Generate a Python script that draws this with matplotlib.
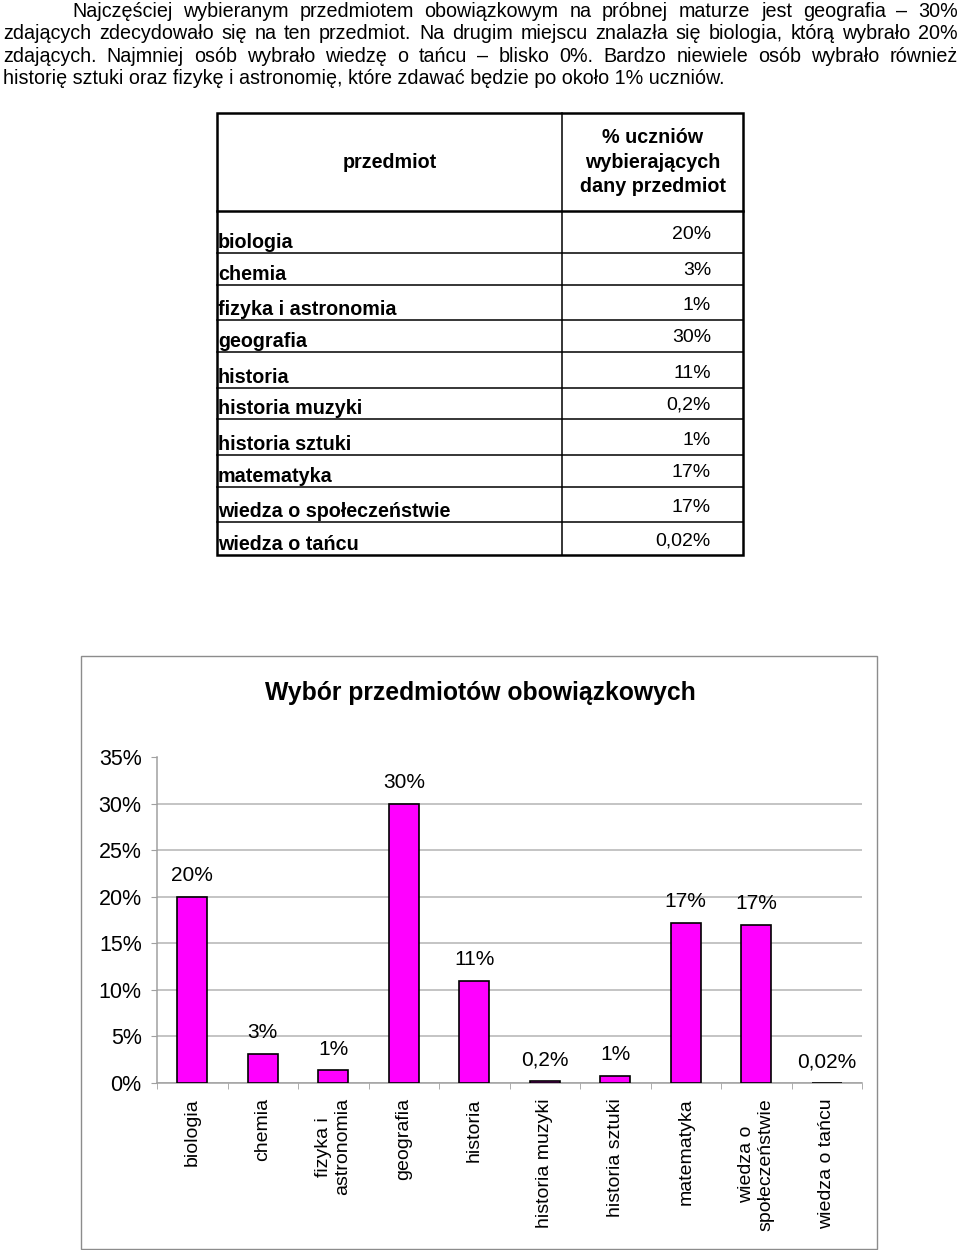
import matplotlib
matplotlib.use('Agg')
import matplotlib.pyplot as plt
from matplotlib.patches import Rectangle

plt.rcParams['font.family'] = ['Liberation Sans', 'DejaVu Sans']

# dane
przedmioty = ['biologia', 'chemia', 'fizyka i astronomia', 'geografia', 'historia',
              'historia muzyki', 'historia sztuki', 'matematyka',
              'wiedza o społeczeństwie', 'wiedza o tańcu']
procenty_tekst = ['20%', '3%', '1%', '30%', '11%', '0,2%', '1%', '17%', '17%', '0,02%']
procenty_wykres = [20, 3.15, 1.35, 30, 11, 0.2, 0.8, 17.2, 17.0, 0.02]
etykiety_osi = ['biologia', 'chemia', 'fizyka i\nastronomia', 'geografia', 'historia',
                'historia muzyki', 'historia sztuki', 'matematyka',
                'wiedza o\nspołeczeństwie', 'wiedza o tańcu']
ticki_y = [0, 5, 10, 15, 20, 25, 30, 35]
naglowki = ['przedmiot', '% uczniów\nwybierających\ndany przedmiot']
tytul = 'Wybór przedmiotów obowiązkowych'

akapit = [
    'Najczęściej wybieranym przedmiotem obowiązkowym na próbnej maturze jest geografia – 30%',
    'zdających zdecydowało się na ten przedmiot. Na drugim miejscu znalazła się biologia, którą wybrało 20%',
    'zdających. Najmniej osób wybrało wiedzę o tańcu – blisko 0%. Bardzo niewiele osób wybrało również',
    'historię sztuki oraz fizykę i astronomię, które zdawać będzie po około 1% uczniów.',
]

W, H = 960, 1250
fig = plt.figure(figsize=(W / 100, H / 100), dpi=100)

# warstwa z tekstem i tabelą, w pikselach
tlo = fig.add_axes([0, 0, 1, 1], zorder=0)
tlo.set_xlim(0, W)
tlo.set_ylim(H, 0)
tlo.axis('off')

renderer = fig.canvas.get_renderer()

# akapit wyjustowany
rozm_akapit = 14.2
poczatki = [72, 3, 3, 3]
linie_y = [17, 39, 62, 84]
prawa = 958
for i, linia in enumerate(akapit):
    if i == len(akapit) - 1:
        tlo.text(poczatki[i], linie_y[i], linia, fontsize=rozm_akapit, va='baseline', ha='left')
        continue
    slowa = linia.split()
    teksty = [tlo.text(0, linie_y[i], s, fontsize=rozm_akapit, va='baseline', ha='left') for s in slowa]
    szer = [t.get_window_extent(renderer).width for t in teksty]
    odstep = (prawa - poczatki[i] - sum(szer)) / (len(slowa) - 1)
    x = poczatki[i]
    for t, w in zip(teksty, szer):
        t.set_x(x)
        x += w + odstep

# tabela
lewa_t, srodek_t, prawa_t = 217, 562, 743
gora_t, naglowek_dol = 113, 211
wiersze = [211, 253, 285, 320, 352, 388, 419, 455, 487, 522, 555]

for y in wiersze[1:-1]:
    tlo.plot([lewa_t, prawa_t], [y, y], color='black', lw=1.1)
tlo.plot([lewa_t, prawa_t], [naglowek_dol, naglowek_dol], color='black', lw=1.8)
tlo.plot([srodek_t, srodek_t], [gora_t, wiersze[-1]], color='black', lw=1.1)
tlo.add_patch(Rectangle((lewa_t, gora_t), prawa_t - lewa_t, wiersze[-1] - gora_t,
                        fill=False, edgecolor='black', lw=1.8))

tlo.text((lewa_t + srodek_t) / 2, 168, naglowki[0], fontsize=14.2, fontweight='bold',
         ha='center', va='baseline')
tlo.text((srodek_t + prawa_t) / 2, 162, naglowki[1], fontsize=14.2, fontweight='bold',
         ha='center', va='center', multialignment='center', linespacing=1.38)

for i, (p, v) in enumerate(zip(przedmioty, procenty_tekst)):
    dol = wiersze[i + 1]
    tlo.text(lewa_t + 1, dol - 5, p, fontsize=14.2, fontweight='bold', ha='left', va='baseline')
    tlo.text(711, dol - (14 if i == 0 else 10), v, fontsize=14, ha='right', va='baseline')

# ramka wykresu i tytuł
tlo.add_patch(Rectangle((81, 656), 877 - 81, 1249 - 656, fill=False,
                        edgecolor='#8c8c8c', lw=1.0))
tlo.text(480, 700, tytul, fontsize=17.8, fontweight='bold', ha='center', va='baseline')

# wykres słupkowy
x0, x1, y0, y1 = 157, 862, 757, 1083
ax = fig.add_axes([x0 / W, 1 - y1 / H, (x1 - x0) / W, (y1 - y0) / H], zorder=1)
ax.set_facecolor('none')
pos = list(range(len(przedmioty)))
slupki = ax.bar(pos, procenty_wykres, width=0.43, color='#FF00FF',
                edgecolor='black', linewidth=1.2, zorder=3)
for s, etk in zip(slupki, procenty_tekst):
    ax.annotate(etk, (s.get_x() + s.get_width() / 2, s.get_height()),
                xytext=(0, 15), textcoords='offset points',
                ha='center', va='center', fontsize=15)

ax.set_xlim(-0.5, len(przedmioty) - 0.5)
ax.set_ylim(0, 35)
ax.set_yticks(ticki_y)
ax.set_yticklabels([f'{v}%' for v in ticki_y], fontsize=15.5)
ax.set_xticks(pos)
ax.set_xticklabels(etykiety_osi, rotation=90, ha='center', va='top',
                   multialignment='center', fontsize=14)
ax.set_xticks([p - 0.5 for p in pos] + [pos[-1] + 0.5], minor=True)
ax.tick_params(axis='x', which='major', length=0, pad=11)
ax.tick_params(axis='x', which='minor', length=4, color='#a0a0a0', direction='out')
ax.tick_params(axis='y', length=4, color='#a0a0a0', pad=7)

ax.yaxis.grid(True, color='#b4b4b4', lw=1.1)
ax.get_ygridlines()[-1].set_visible(False)
ax.set_axisbelow(True)
for k in ['top', 'right']:
    ax.spines[k].set_visible(False)
for k in ['left', 'bottom']:
    ax.spines[k].set_color('#a0a0a0')
    ax.spines[k].set_linewidth(1.1)

fig.savefig('out.png', dpi=100)
